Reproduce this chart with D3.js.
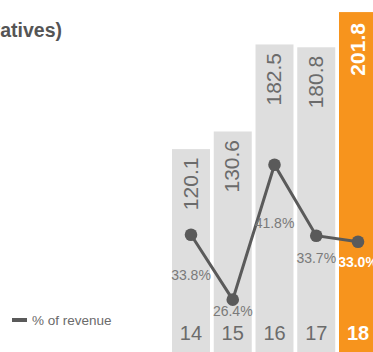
<!DOCTYPE html>
<html>
<head>
<meta charset="utf-8">
<script src="https://cdn.jsdelivr.net/npm/d3@7"></script>
<style>
  html, body { margin: 0; padding: 0; background: #fff; overflow: hidden; }
  svg { display: block; }
</style>
</head>
<body>
<svg id="chart" width="373" height="352"></svg>
<script>
// Fiscal years and values
const years = ["14", "15", "16", "17", "18"];
const amounts = [120.1, 130.6, 182.5, 180.8, 201.8];
const pctOfRevenue = [33.8, 26.4, 41.8, 33.7, 33.0];
const amountLabels = ["120.1", "130.6", "182.5", "180.8", "201.8"];
const pctLabels = ["33.8%", "26.4%", "41.8%", "33.7%", "33.0%"];

// Vertical offsets of the percentage labels below their markers
const pctLabelDy = [45, 16, 63, 27, 25];

const W = 373, H = 352;
const grey = "#dedede", orange = "#f7941d", ink = "#5a5a5a", textGrey = "#6b6b6b";
const narrow = "'Liberation Sans Narrow', 'Liberation Sans', Arial, sans-serif";
const svg = d3.select("#chart");

const x = d3.scaleBand().domain(years).range([172, 377]).paddingInner(0.09).paddingOuter(0);
const y = d3.scaleLinear().domain([0, 200]).range([350.5, 15.1]);
const yPct = d3.scaleLinear().domain([20, 45]).range([355.7, 136.7]);
const isLast = (i) => i === years.length - 1;

// Title (runs off the left edge)
svg.append("text")
  .attr("x", 62).attr("y", 37)
  .attr("text-anchor", "end")
  .attr("font-family", "'Liberation Sans', Arial, sans-serif")
  .attr("font-weight", "bold").attr("font-size", 19.5)
  .attr("fill", "#555")
  .text("Operating income (excluding derivatives)");

// Bars
svg.append("g").selectAll("rect").data(amounts).join("rect")
  .attr("x", (d, i) => x(years[i]))
  .attr("width", x.bandwidth())
  .attr("y", d => y(d))
  .attr("height", d => H + 5 - y(d))
  .attr("fill", (d, i) => isLast(i) ? orange : grey);

// Value labels, rotated along the top of each bar
svg.append("g").selectAll("text").data(amounts).join("text")
  .attr("transform", (d, i) => `translate(${x(years[i]) + x.bandwidth() / 2 - 1},${y(d) + (isLast(i) ? 11 : 8.5)}) rotate(-90)`)
  .attr("text-anchor", "end")
  .attr("dy", "0.36em")
  .attr("font-family", narrow)
  .attr("font-size", 21)
  .attr("font-weight", (d, i) => isLast(i) ? "bold" : "normal")
  .attr("fill", (d, i) => isLast(i) ? "#fff" : textGrey)
  .text((d, i) => amountLabels[i]);

// Category labels along the bottom
const xAxis = svg.append("g").attr("transform", "translate(0,340)")
  .call(d3.axisBottom(x).tickSize(0).tickPadding(0));
xAxis.select(".domain").remove();
xAxis.selectAll("text")
  .attr("dy", 0)
  .attr("font-family", narrow)
  .attr("font-size", 20)
  .attr("font-weight", (d, i) => isLast(i) ? "bold" : "normal")
  .attr("fill", (d, i) => isLast(i) ? "#fff" : textGrey);

// Percent-of-revenue line
const cx = (i) => x(years[i]) + x.bandwidth() / 2;
const line = d3.line().x((d, i) => cx(i)).y(d => yPct(d));
svg.append("path").datum(pctOfRevenue)
  .attr("d", line)
  .attr("fill", "none")
  .attr("stroke", ink)
  .attr("stroke-width", 3);
svg.append("g").selectAll("circle").data(pctOfRevenue).join("circle")
  .attr("cx", (d, i) => cx(i))
  .attr("cy", d => yPct(d))
  .attr("r", 6.3)
  .attr("fill", ink);

svg.append("g").selectAll("text").data(pctOfRevenue).join("text")
  .attr("x", (d, i) => cx(i))
  .attr("y", (d, i) => yPct(d) + pctLabelDy[i])
  .attr("text-anchor", "middle")
  .attr("font-family", narrow)
  .attr("font-size", 14)
  .attr("font-weight", (d, i) => isLast(i) ? "bold" : "normal")
  .attr("fill", (d, i) => isLast(i) ? "#fff" : "#7a7a7a")
  .text((d, i) => pctLabels[i]);

// Legend
const legend = svg.append("g").attr("transform", "translate(12,320)");
legend.append("line")
  .attr("x1", 0).attr("x2", 15).attr("y1", 0).attr("y2", 0)
  .attr("stroke", ink).attr("stroke-width", 4);
legend.append("text")
  .attr("x", 20).attr("y", 5)
  .attr("font-family", "'Liberation Sans', Arial, sans-serif")
  .attr("font-size", 13.5)
  .attr("fill", textGrey)
  .text("% of revenue");
</script>
</body>
</html>
